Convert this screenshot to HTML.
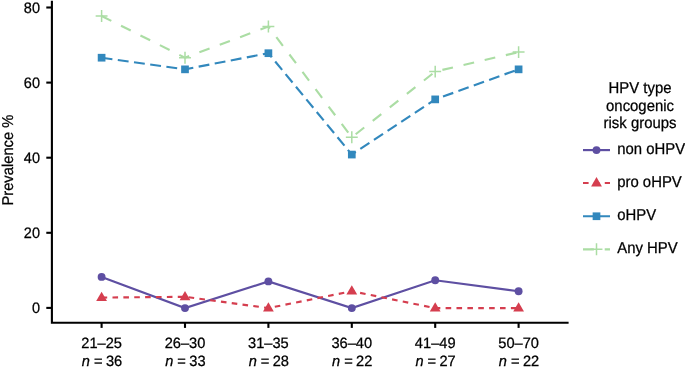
<!DOCTYPE html>
<html><head><meta charset="utf-8"><title>chart</title>
<style>
html,body{margin:0;padding:0;background:#fff;}
svg{display:block;will-change:transform;}
text{font-family:"Liberation Sans",sans-serif;font-size:14.9px;fill:#000;text-rendering:geometricPrecision;stroke:#000;stroke-width:0.25px;}
text.t{font-size:14.5px;}text.x{font-size:14.65px;}text.yl{font-size:14.75px;}
</style></head><body>
<svg width="685" height="373" viewBox="0 0 685 373">
<rect width="685" height="373" fill="#fff"/>
<path d="M51.9 0.8V322.75H568.6" fill="none" stroke="#000" stroke-width="2.1"/>
<path d="M46.3 307.90H52" stroke="#000" stroke-width="2.1"/>
<text class="t" transform="translate(40.0 313.30) scale(1 1.05)" text-anchor="end">0</text>
<path d="M46.3 232.80H52" stroke="#000" stroke-width="2.1"/>
<text class="t" transform="translate(40.0 238.20) scale(1 1.05)" text-anchor="end">20</text>
<path d="M46.3 157.70H52" stroke="#000" stroke-width="2.1"/>
<text class="t" transform="translate(40.0 163.10) scale(1 1.05)" text-anchor="end">40</text>
<path d="M46.3 82.60H52" stroke="#000" stroke-width="2.1"/>
<text class="t" transform="translate(40.0 88.00) scale(1 1.05)" text-anchor="end">60</text>
<path d="M46.3 7.50H52" stroke="#000" stroke-width="2.1"/>
<text class="t" transform="translate(40.0 12.90) scale(1 1.05)" text-anchor="end">80</text>
<path d="M101.6 322.75V327.9" stroke="#000" stroke-width="2.1"/>
<text class="x" transform="translate(101.6 348.15) scale(1 1.02)" text-anchor="middle">21–25</text>
<text class="x" transform="translate(102.0 365.75) scale(1 1.02)" text-anchor="middle"><tspan font-style="italic">n</tspan><tspan dx="-0.1"> =</tspan><tspan dx="-0.7"> 36</tspan></text>
<path d="M185.0 322.75V327.9" stroke="#000" stroke-width="2.1"/>
<text class="x" transform="translate(185.0 348.15) scale(1 1.02)" text-anchor="middle">26–30</text>
<text class="x" transform="translate(185.4 365.75) scale(1 1.02)" text-anchor="middle"><tspan font-style="italic">n</tspan><tspan dx="-0.1"> =</tspan><tspan dx="-0.7"> 33</tspan></text>
<path d="M268.4 322.75V327.9" stroke="#000" stroke-width="2.1"/>
<text class="x" transform="translate(268.4 348.15) scale(1 1.02)" text-anchor="middle">31–35</text>
<text class="x" transform="translate(268.8 365.75) scale(1 1.02)" text-anchor="middle"><tspan font-style="italic">n</tspan><tspan dx="-0.1"> =</tspan><tspan dx="-0.7"> 28</tspan></text>
<path d="M351.8 322.75V327.9" stroke="#000" stroke-width="2.1"/>
<text class="x" transform="translate(351.8 348.15) scale(1 1.02)" text-anchor="middle">36–40</text>
<text class="x" transform="translate(352.2 365.75) scale(1 1.02)" text-anchor="middle"><tspan font-style="italic">n</tspan><tspan dx="-0.1"> =</tspan><tspan dx="-0.7"> 22</tspan></text>
<path d="M435.2 322.75V327.9" stroke="#000" stroke-width="2.1"/>
<text class="x" transform="translate(435.2 348.15) scale(1 1.02)" text-anchor="middle">41–49</text>
<text class="x" transform="translate(435.6 365.75) scale(1 1.02)" text-anchor="middle"><tspan font-style="italic">n</tspan><tspan dx="-0.1"> =</tspan><tspan dx="-0.7"> 27</tspan></text>
<path d="M518.6 322.75V327.9" stroke="#000" stroke-width="2.1"/>
<text class="x" transform="translate(518.6 348.15) scale(1 1.02)" text-anchor="middle">50–70</text>
<text class="x" transform="translate(519.0 365.75) scale(1 1.02)" text-anchor="middle"><tspan font-style="italic">n</tspan><tspan dx="-0.1"> =</tspan><tspan dx="-0.7"> 22</tspan></text>
<text class="yl" transform="translate(13.2 160.1) rotate(-90) scale(1 1.06)" text-anchor="middle">Prevalence %</text>
<polyline points="101.6,276.9 185.0,308.1 268.4,281.4 351.8,308.1 435.2,280.3 518.6,291.2" fill="none" stroke="#5e4fa2" stroke-width="2.15"/>
<polyline points="101.6,297.6 185.0,296.8 268.4,308.1 351.8,291.2 435.2,308.1 518.6,308.1" fill="none" stroke="#d53e4f" stroke-width="2.15" stroke-dasharray="5.6 5.28"/>
<polyline points="101.6,57.7 185.0,69.3 268.4,53.2 351.8,154.6 435.2,99.4 518.6,69.3" fill="none" stroke="#3288bd" stroke-width="2.15" stroke-dasharray="10.9 5.45"/>
<polyline points="101.6,16.0 185.0,57.7 268.4,26.6 351.8,137.3 435.2,71.6 518.6,52.1" fill="none" stroke="#abdda4" stroke-width="2.15" stroke-dasharray="10.86 10.86"/>
<circle cx="101.6" cy="276.9" r="3.95" fill="#5e4fa2"/>
<circle cx="185.0" cy="308.1" r="3.95" fill="#5e4fa2"/>
<circle cx="268.4" cy="281.4" r="3.95" fill="#5e4fa2"/>
<circle cx="351.8" cy="308.1" r="3.95" fill="#5e4fa2"/>
<circle cx="435.2" cy="280.3" r="3.95" fill="#5e4fa2"/>
<circle cx="518.6" cy="291.2" r="3.95" fill="#5e4fa2"/>
<polygon points="101.6,291.7 96.2,301.0 107.0,301.0" fill="#d53e4f"/>
<polygon points="185.0,290.9 179.6,300.2 190.4,300.2" fill="#d53e4f"/>
<polygon points="268.4,302.2 263.0,311.5 273.8,311.5" fill="#d53e4f"/>
<polygon points="351.8,285.3 346.4,294.6 357.2,294.6" fill="#d53e4f"/>
<polygon points="435.2,302.2 429.8,311.5 440.6,311.5" fill="#d53e4f"/>
<polygon points="518.6,302.2 513.2,311.5 524.0,311.5" fill="#d53e4f"/>
<rect x="97.75" y="53.86" width="7.7" height="7.7" fill="#3288bd"/>
<rect x="181.15" y="65.50" width="7.7" height="7.7" fill="#3288bd"/>
<rect x="264.55" y="49.35" width="7.7" height="7.7" fill="#3288bd"/>
<rect x="347.95" y="150.71" width="7.7" height="7.7" fill="#3288bd"/>
<rect x="431.35" y="95.53" width="7.7" height="7.7" fill="#3288bd"/>
<rect x="514.75" y="65.50" width="7.7" height="7.7" fill="#3288bd"/>
<path d="M95.65 16.0H107.55M101.6 10.09V21.99" stroke="#abdda4" stroke-width="1.5" fill="none"/>
<path d="M179.05 57.7H190.95M185.0 51.76V63.66" stroke="#abdda4" stroke-width="1.5" fill="none"/>
<path d="M262.45 26.6H274.35M268.4 20.60V32.50" stroke="#abdda4" stroke-width="1.5" fill="none"/>
<path d="M345.85 137.3H357.75M351.8 131.34V143.24" stroke="#abdda4" stroke-width="1.5" fill="none"/>
<path d="M429.25 71.6H441.15M435.2 65.65V77.55" stroke="#abdda4" stroke-width="1.5" fill="none"/>
<path d="M512.65 52.1H524.55M518.6 46.13V58.03" stroke="#abdda4" stroke-width="1.5" fill="none"/>
<text transform="translate(640 92.8) scale(1 1.06)" text-anchor="middle">HPV type</text>
<text transform="translate(640 111.05) scale(1 1.06)" text-anchor="middle">oncogenic</text>
<text transform="translate(640 128.25) scale(1 1.06)" text-anchor="middle">risk groups</text>
<path d="M583 150.1H610" stroke="#5e4fa2" stroke-width="2.15"/>
<circle cx="596.5" cy="150.1" r="3.95" fill="#5e4fa2"/>
<text transform="translate(617.2 153.9) scale(1 1.06)">non oHPV</text>
<path d="M583 183.0H610" stroke="#d53e4f" stroke-width="2.15" stroke-dasharray="5.6 5.28"/>
<polygon points="596.5,177.1 591.1,186.4 601.9,186.4" fill="#d53e4f"/>
<text transform="translate(617.2 187.1) scale(1 1.06)">pro oHPV</text>
<path d="M583 216.25H610" stroke="#3288bd" stroke-width="2.15" stroke-dasharray="10.9 5.45"/>
<rect x="592.65" y="212.40" width="7.7" height="7.7" fill="#3288bd"/>
<text transform="translate(617.2 219.8) scale(1 1.06)">oHPV</text>
<path d="M583 249.3H610" stroke="#abdda4" stroke-width="2.15" stroke-dasharray="10.86 10.86"/>
<path d="M590.55 249.3H602.45M596.5 243.35V255.25" stroke="#abdda4" stroke-width="1.5" fill="none"/>
<text transform="translate(617.2 252.5) scale(1 1.06)">Any HPV</text>
</svg>
</body></html>
